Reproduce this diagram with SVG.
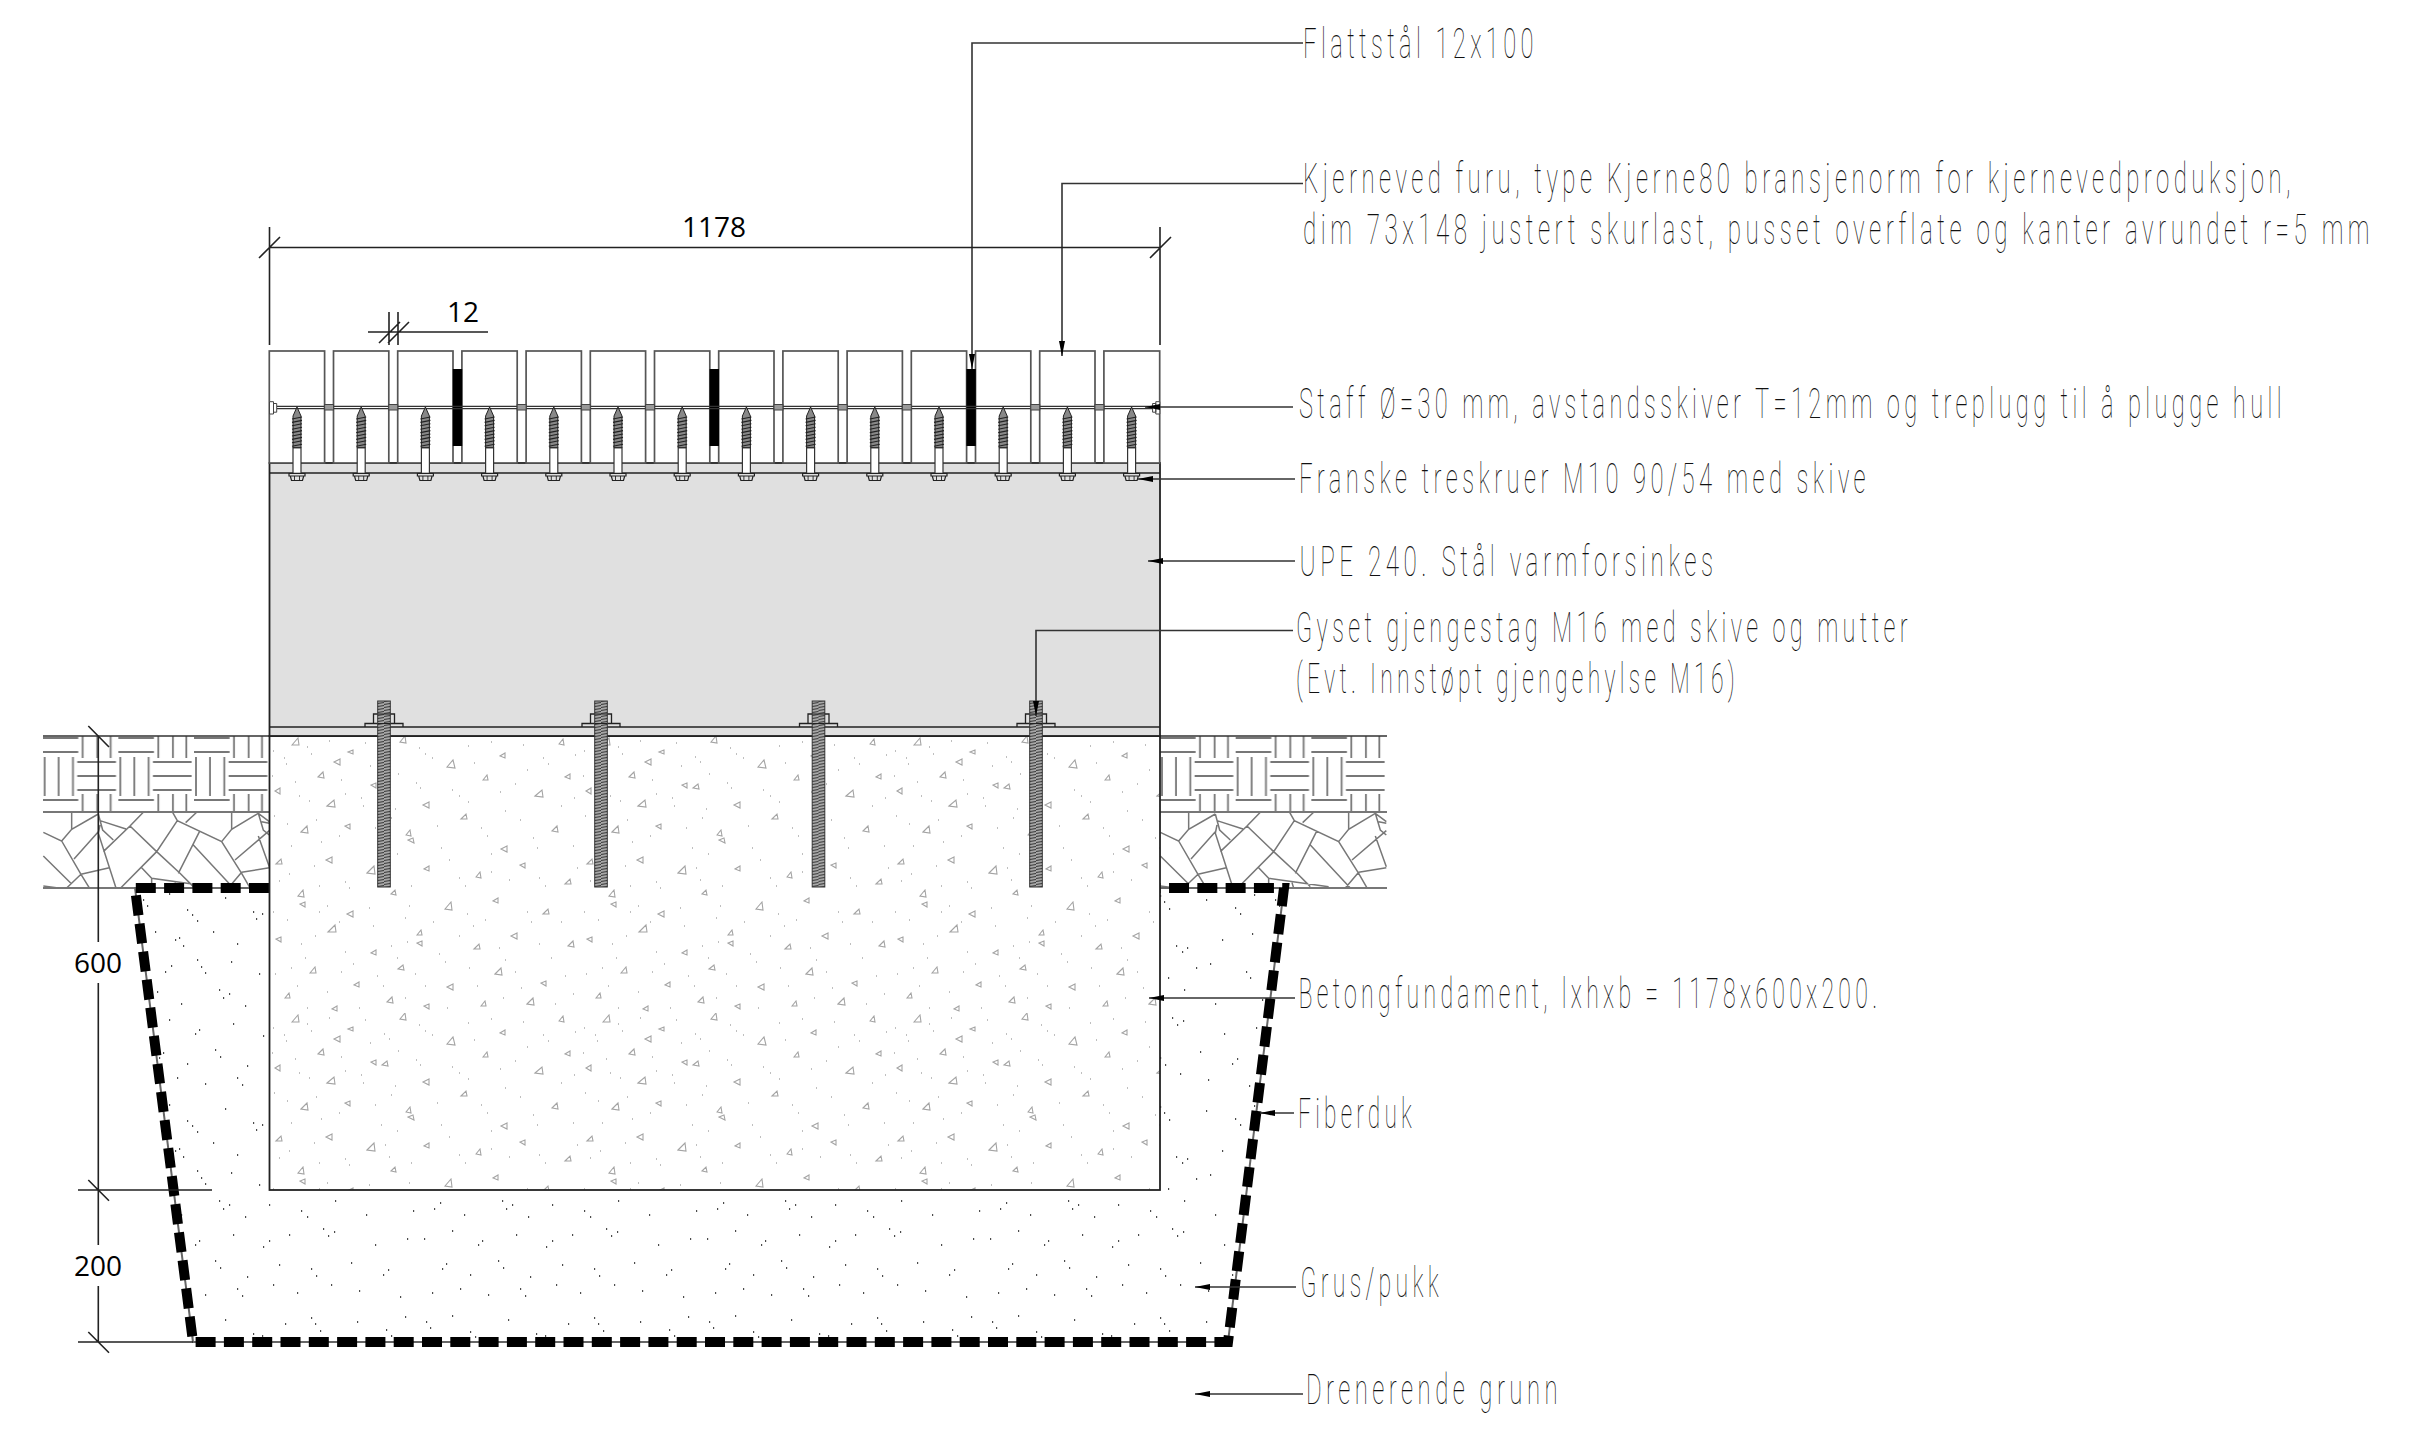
<svg xmlns="http://www.w3.org/2000/svg" xmlns:xlink="http://www.w3.org/1999/xlink" width="2417" height="1439" viewBox="0 0 2417 1439">
<style>
.n{font-family:"Roboto","Liberation Sans",sans-serif;font-weight:100;font-size:43px;letter-spacing:8px;fill:#111}
.d{font-family:"Open Sans","Liberation Sans",sans-serif;font-size:28px;fill:#000;text-anchor:middle}
.l{stroke:#222;stroke-width:1.6;fill:none}
.t{stroke:#333;stroke-width:1.3;fill:none}
.pl{fill:#fff;stroke:#555;stroke-width:1.7}
.sp{fill:#999;stroke:#444;stroke-width:1}
.bar{fill:#000}
.ld{stroke:#333;stroke-width:1.6;fill:none;marker-start:url(#ah)}
.stone{stroke:#777;stroke-width:4.5;fill:none}
.pv{stroke:#777;stroke-width:1.8;fill:none}
</style>
<defs>
<marker id="ah" markerUnits="userSpaceOnUse" markerWidth="16" markerHeight="8" refX="0" refY="4" orient="auto"><path d="M0 4L15 1V7z" fill="#000"/></marker>
<pattern id="pave" patternUnits="userSpaceOnUse" x="42.67" y="736" width="75.67" height="76">
<path class="pv" d="M0 2H35.6M0 16H35.6M0 64H35.6M40 0V22M54.6 0V22M68 0V22M40 58V76M54.6 58V76M68 58V76M2 21V60M16 21V60M30.3 21V60M34.6 26H73.3M34.6 40H73.3M34.6 54H73.3"/>
</pattern>
<pattern id="paveR" patternUnits="userSpaceOnUse" x="1160" y="736" width="75.67" height="76">
<path class="pv" d="M0 2H35.6M0 16H35.6M0 64H35.6M40 0V22M54.6 0V22M68 0V22M40 58V76M54.6 58V76M68 58V76M2 21V60M16 21V60M30.3 21V60M34.6 26H73.3M34.6 40H73.3M34.6 54H73.3"/>
</pattern>
<pattern id="hatch" patternUnits="userSpaceOnUse" width="13" height="3">
<rect width="13" height="3" fill="#a8a8a8"/><path d="M-1 2.6L14 .4" stroke="#333" stroke-width="1"/>
</pattern>
<pattern id="conc" patternUnits="userSpaceOnUse" x="269" y="736" width="311" height="277">
<path fill="none" stroke="#a4a4a4" stroke-width="1.1" d="M23 9l6-7 1 7zM71 23l-6 3 6 3zM84 14l-5 2 5 2zM131 6l5-6 1 7zM178 31l6-7 2 8zM236 17l-5 3 5 2zM290 8l4-5 1 6zM11 52l-5 3 5 3zM49 41l5-5 1 6zM58 70l7-6 1 7zM107 47l-5 2 5 3zM113 52l5-4 1 5zM160 66l-6 3 6 3zM214 44l4-5 1 5zM266 60l7-6 1 7zM301 38l-5 3 5 2zM32 96l6-6 1 7zM81 88l-5 2 5 3zM137 99l4-5 1 6zM144 102l-5 2 6 3zM192 83l5-5 1 5zM238 110l-6 3 6 3zM283 95l5-5 1 6zM7 128l5-5 1 5zM63 121l-6 3 6 3zM98 137l7-7 1 8zM160 130l-5 3 5 2zM207 141l4-5 1 6zM256 127l-5 2 5 3zM296 148l5-5 1 5zM29 160l5-6 1 7zM36 166l-5 2 5 3zM84 175l-6 3 6 3zM122 158l4-4 1 5zM176 173l6-7 1 8zM229 162l-5 3 5 2zM274 178l5-5 1 5zM12 201l-5 2 5 3zM59 196l7-7 1 7zM107 214l-5 3 5 2zM148 199l4-5 1 5zM153 205l-5 2 5 3zM205 213l5-5 1 5zM248 197l-6 3 6 3zM299 210l5-5 1 6zM41 237l5-6 1 6zM90 246l-5 3 5 2zM129 233l5-4 1 5zM184 248l-6 3 6 3zM226 238l6-6 1 7zM277 245l-5 2 5 3zM16 262l4-5 1 5zM68 270l-5 3 5 2zM118 266l5-5 1 6zM160 268l-5 2 5 3zM212 270l4-5 1 5zM258 268l6-6 1 7z"/>
<path fill="none" stroke="#808080" stroke-width="1.2" d="M4 15h1M15 22h1M17 28h1M38 11h1M42 18h1M60 5h1M96 7h1M101 30h1M115 21h1M120 26h1M150 12h1M156 18h1M163 22h1M199 10h1M205 27h1M222 6h1M254 9h1M258 34h1M274 22h1M279 28h1M306 19h1M3 40h1M26 46h1M30 60h1M40 65h1M72 44h1M76 58h1M92 62h1M94 70h1M126 73h1M129 38h1M147 47h1M151 52h1M183 54h1M190 60h1M199 66h1M231 56h1M236 75h1M246 48h1M251 84h1M292 70h1M305 62h1M5 80h1M18 88h1M22 110h1M47 84h1M52 106h1M70 100h1M106 92h1M112 112h1M122 82h1M128 118h1M168 90h1M172 112h1M180 124h1M212 92h1M218 100h1M222 118h1M264 102h1M268 112h1M304 110h1M10 145h1M20 138h1M45 130h1M50 150h1M76 146h1M80 152h1M116 132h1M120 144h1M142 150h1M190 142h1M196 150h1M222 136h1M240 144h1M270 142h1M276 150h1M308 132h1M4 176h1M18 184h1M50 176h1M58 170h1M70 186h1M100 172h1M104 190h1M136 182h1M140 170h1M164 186h1M198 178h1M204 190h1M216 184h1M258 176h1M262 186h1M292 186h1M32 208h1M36 222h1M46 200h1M76 216h1M84 228h1M122 210h1M128 222h1M138 206h1M170 218h1M176 226h1M190 200h1M230 212h1M236 224h1M270 208h1M282 222h1M6 238h1M22 232h1M28 250h1M58 256h1M72 236h1M108 240h1M114 250h1M146 238h1M156 250h1M200 232h1M208 250h1M246 236h1M252 252h1M296 240h1M304 258h1M38 272h1M90 272h1M136 262h1M178 272h1M234 262h1M286 268h1"/>
</pattern>
<pattern id="grav" patternUnits="userSpaceOnUse" x="135" y="888" width="283" height="211">
<path fill="none" stroke="#111" stroke-width="1.4" d="M8 12h1.2M12 18h1.2M34 6h1.2M52 22h1.2M57 27h1.2M62 33h1.2M90 10h1.2M118 24h1.2M121 31h1.2M127 26h1.2M150 14h1.2M176 8h1.2M180 14h1.2M185 21h1.2M222 12h1.2M251 20h1.2M256 26h1.2M270 7h1.2M20 44h1.2M40 52h1.2M44 50h1.2M48 58h1.2M78 44h1.2M102 56h1.2M140 48h1.2M147 54h1.2M170 40h1.2M192 58h1.2M198 64h1.2M203 60h1.2M238 52h1.2M268 46h1.2M10 76h1.2M30 84h1.2M36 78h1.2M62 72h1.2M66 79h1.2M70 85h1.2M96 74h1.2M124 86h1.2M156 76h1.2M160 80h1.2M184 90h1.2M212 80h1.2M226 76h1.2M262 84h1.2M266 90h1.2M16 110h1.2M22 104h1.2M46 116h1.2M84 102h1.2M88 110h1.2M94 106h1.2M110 118h1.2M134 106h1.2M166 112h1.2M172 118h1.2M200 102h1.2M231 116h1.2M278 112h1.2M6 140h1.2M34 132h1.2M60 146h1.2M64 142h1.2M98 136h1.2M128 148h1.2M134 142h1.2M154 136h1.2M188 130h1.2M193 137h1.2M199 133h1.2M240 146h1.2M272 140h1.2M24 170h1.2M28 165h1.2M52 176h1.2M80 162h1.2M85 169h1.2M112 178h1.2M144 166h1.2M176 170h1.2M181 177h1.2M216 164h1.2M248 176h1.2M253 171h1.2M14 194h1.2M42 190h1.2M70 196h1.2M102 190h1.2M107 197h1.2M138 186h1.2M162 194h1.2M196 186h1.2M224 192h1.2M265 198h1.2"/>
</pattern>
<g id="bolt">
<rect x="-4" y="447.7" width="8" height="25.6" fill="#fff" stroke="#333" stroke-width="1.2"/>
<path d="M0 407L4 416V447.7H-4V416z" fill="#888" stroke="#222" stroke-width="1"/>
<path stroke="#222" stroke-width="1.1" fill="none" d="M-5 419L5 417M-5 422.4L5 420.4M-5 425.8L5 423.8M-5 429.2L5 427.2M-5 432.6L5 430.6M-5 436L5 434M-5 439.4L5 437.4M-5 442.8L5 440.8M-5 446.2L5 444.2"/>
<path d="M-8 473.5H8V476H-8zM-6.7 476H6.7L5.5 480.5H-5.5z" fill="#e0e0e0" stroke="#222" stroke-width="1.2"/>
<path d="M-2.5 476V480.5M2.5 476V480.5" stroke="#222" stroke-width=".9"/>
</g>
<g id="anchor">
<path fill="none" stroke="#222" stroke-width="1.3" d="M-10.5 723.5V714H10.5V723.5M-19 727V723.5H19V727"/>
<rect x="-6.3" y="701" width="12.6" height="186" fill="url(#hatch)" stroke="#333" stroke-width="1"/>
<path fill="none" stroke="#222" stroke-width="1.1" d="M-6 714H6M-6 723.5H6"/>
</g>
<g id="stones">
<path class="stone" transform="translate(20 700) scale(.3333)" d="M155 337V388M125 423L155 388L235 342M70 397L125 423L183 523L208 564M235 342L248 390L280 420M240 362L318 387M370 337L330 378L250 455M235 395L162 477M240 375L235 400L288 564M330 378L410 455L480 520L520 560M472 362L410 455L302 564M458 337L472 362L605 425L665 520L690 564M530 337L497 368M635 337V388M605 425L635 388L715 340L748 365M540 392L475 520M520 435L640 564M715 340L730 390L748 405M725 365L748 370M748 392L645 480M715 408L748 500M665 517L748 503M665 517L625 564M70 468L155 552M183 523L268 503M183 523L140 564M365 503L395 535L575 560M395 535V564M70 558L115 564M465 548L470 564"/>
</g>
</defs>
<rect width="2417" height="1439" fill="#fff"/>
<g id="grus"><path d="M135 888H1284L1228 1342H193z" fill="url(#grav)"/></g>
<g id="belegning">
<rect x="43" y="736" width="226.5" height="76" fill="url(#pave)"/>
<rect x="1160" y="736" width="227" height="76" fill="url(#paveR)"/>
<path class="pv" d="M43 812H269M1160 812H1387M43 888H269M1160 888H1387"/>
<path d="M43 736H269M1160 736H1387" stroke="#333" stroke-width="1.6"/>
<use href="#stones"/>
<use href="#stones" x="1117"/>
</g>
<g id="fiberduk">
<path d="M269 888H135L193 1342H1228L1284 888H1160" fill="none" stroke="#666" stroke-width="2"/>
<path d="M269 888H135L193 1342H1228L1284 888H1160" fill="none" stroke="#000" stroke-width="10" stroke-dasharray="20 8.3"/>
</g>
<g id="betong">
<rect x="269.5" y="736" width="890.5" height="454" fill="#fff"/>
<rect x="269.5" y="736" width="890.5" height="454" fill="url(#conc)" stroke="#222" stroke-width="1.8"/>
</g>
<g id="upe">
<rect x="269.5" y="463" width="890.5" height="273" fill="#e0e0e0" stroke="#222" stroke-width="1.8"/>
<path class="l" d="M269.5 473H1160M269.5 727H1160"/>
</g>
<g id="planker">
<rect class="pl" x="269.3" y="351" width="55.3" height="112"/><rect class="pl" x="333.5" y="351" width="55.3" height="112"/><rect class="pl" x="397.7" y="351" width="55.3" height="112"/><rect class="pl" x="461.9" y="351" width="55.3" height="112"/><rect class="pl" x="526.1" y="351" width="55.3" height="112"/><rect class="pl" x="590.3" y="351" width="55.3" height="112"/><rect class="pl" x="654.5" y="351" width="55.3" height="112"/><rect class="pl" x="718.7" y="351" width="55.3" height="112"/><rect class="pl" x="782.9" y="351" width="55.3" height="112"/><rect class="pl" x="847.1" y="351" width="55.3" height="112"/><rect class="pl" x="911.3" y="351" width="55.3" height="112"/><rect class="pl" x="975.5" y="351" width="55.3" height="112"/><rect class="pl" x="1039.7" y="351" width="55.3" height="112"/><rect class="pl" x="1103.9" y="351" width="55.8" height="112"/>
</g>
<g id="flattstaal">
<rect class="bar" x="452.8" y="369" width="9.4" height="77"/><rect class="bar" x="709.6" y="369" width="9.4" height="77"/><rect class="bar" x="966.4" y="369" width="9.4" height="77"/>
</g>
<g id="staff">
<path class="t" d="M277 406.4H1153M277 408.6H1153"/>
<rect class="sp" x="324.6" y="404.5" width="8.9" height="5.5"/><rect class="sp" x="388.8" y="404.5" width="8.9" height="5.5"/><rect class="sp" x="517.2" y="404.5" width="8.9" height="5.5"/><rect class="sp" x="581.4" y="404.5" width="8.9" height="5.5"/><rect class="sp" x="645.6" y="404.5" width="8.9" height="5.5"/><rect class="sp" x="774" y="404.5" width="8.9" height="5.5"/><rect class="sp" x="838.2" y="404.5" width="8.9" height="5.5"/><rect class="sp" x="902.4" y="404.5" width="8.9" height="5.5"/><rect class="sp" x="1030.8" y="404.5" width="8.9" height="5.5"/><rect class="sp" x="1095" y="404.5" width="8.9" height="5.5"/>
<path d="M269.5 401.7h4v12.3h-4zM273.5 403.5h3.2v8.7h-3.2zM1159.8 401.7h-4v12.3h4zM1155.8 403.5h-3.2v8.7h3.2z" fill="#fff" stroke="#444" stroke-width="1"/>
</g>
<g id="skruer">
<use href="#bolt" x="297"/><use href="#bolt" x="361.2"/><use href="#bolt" x="425.4"/><use href="#bolt" x="489.6"/><use href="#bolt" x="553.8"/><use href="#bolt" x="618"/><use href="#bolt" x="682.2"/><use href="#bolt" x="746.4"/><use href="#bolt" x="810.6"/><use href="#bolt" x="874.8"/><use href="#bolt" x="939"/><use href="#bolt" x="1003.2"/><use href="#bolt" x="1067.4"/><use href="#bolt" x="1131.6"/>
</g>
<g id="gjengestag">
<use href="#anchor" x="384"/><use href="#anchor" x="601"/><use href="#anchor" x="818.5"/><use href="#anchor" x="1036"/>
</g>
<g id="connectors">
<path class="ld" d="M972 369V43H1303"/>
<path class="ld" d="M1062 356V183.5H1303"/>
<path class="ld" d="M1145 407H1293"/>
<path class="ld" d="M1138 479H1295"/>
<path class="ld" d="M1148 561H1295"/>
<path class="ld" d="M1036 716V630.5H1293"/>
<path class="ld" d="M1149 998H1295"/>
<path class="ld" d="M1260 1113H1294"/>
<path class="ld" d="M1195 1287H1296"/>
<path class="ld" d="M1195 1394H1303"/>
</g>
<g id="maal">
<path class="l" d="M269.5 227V345M1160 227V345M269.5 247.5H1160M259 258L280 237M1150 258L1171 237"/>
<path class="l" d="M368 332H488M389 312V345M398 312V345M379 343L400 322M388 343L409 322"/>
<path class="l" d="M98.3 736V942M98.3 983V1245M98.3 1286V1342M78 1190H212M78 1342H193M88.3 726L109 747M88.3 1180L109 1200.7M88.3 1332L109 1352.7"/>
<text class="d" x="714" y="237">1178</text>
<text class="d" x="463" y="322">12</text>
<text class="d" x="98" y="973">600</text>
<text class="d" x="98" y="1276">200</text>
</g>
<g id="tekster">
<text class="n" transform="translate(1303 58) scale(.5 1)" textLength="470" lengthAdjust="spacingAndGlyphs">Flattstål 12x100</text>
<text class="n" transform="translate(1303 193) scale(.5 1)" textLength="1984" lengthAdjust="spacingAndGlyphs">Kjerneved furu, type Kjerne80 bransjenorm for kjernevedproduksjon,</text>
<text class="n" transform="translate(1303 244) scale(.5 1)" textLength="2142" lengthAdjust="spacingAndGlyphs">dim 73x148 justert skurlast, pusset overflate og kanter avrundet r=5 mm</text>
<text class="n" transform="translate(1299 418) scale(.5 1)" textLength="1974" lengthAdjust="spacingAndGlyphs">Staff Ø=30 mm, avstandsskiver T=12mm og treplugg til å plugge hull</text>
<text class="n" transform="translate(1299 493) scale(.5 1)" textLength="1142" lengthAdjust="spacingAndGlyphs">Franske treskruer M10 90/54 med skive</text>
<text class="n" transform="translate(1299.5 576) scale(.5 1)" textLength="836" lengthAdjust="spacingAndGlyphs">UPE 240. Stål varmforsinkes</text>
<text class="n" transform="translate(1296 642) scale(.5 1)" textLength="1232" lengthAdjust="spacingAndGlyphs">Gyset gjengestag M16 med skive og mutter</text>
<text class="n" transform="translate(1296 693) scale(.5 1)" textLength="886" lengthAdjust="spacingAndGlyphs">(Evt. Innstøpt gjengehylse M16)</text>
<text class="n" transform="translate(1298.5 1008) scale(.5 1)" textLength="1166" lengthAdjust="spacingAndGlyphs">Betongfundament, lxhxb = 1178x600x200.</text>
<text class="n" transform="translate(1298 1128) scale(.5 1)" textLength="236" lengthAdjust="spacingAndGlyphs">Fiberduk</text>
<text class="n" transform="translate(1300.5 1297) scale(.5 1)" textLength="285" lengthAdjust="spacingAndGlyphs">Grus/pukk</text>
<text class="n" transform="translate(1306 1404) scale(.5 1)" textLength="512" lengthAdjust="spacingAndGlyphs">Drenerende grunn</text>
</g>
</svg>
